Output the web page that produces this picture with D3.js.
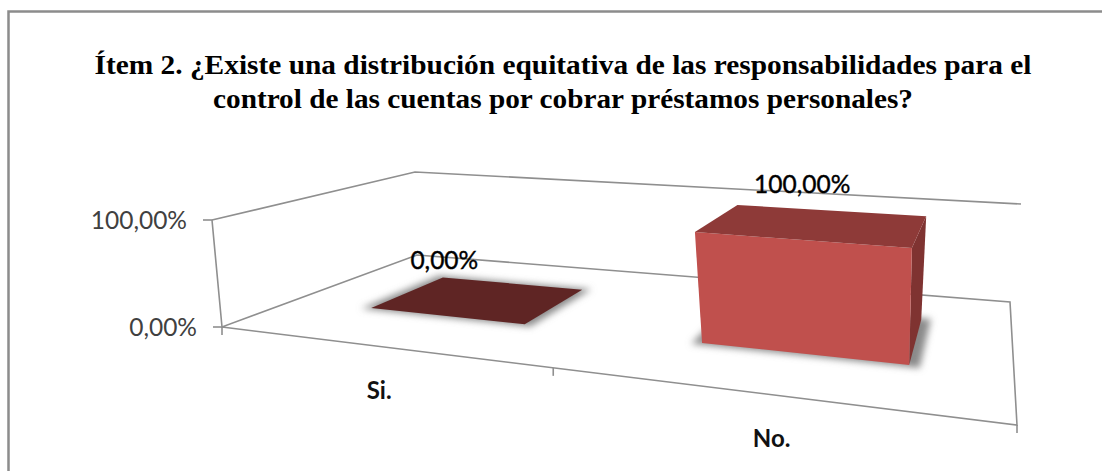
<!DOCTYPE html>
<html>
<head>
<meta charset="utf-8">
<script src="https://cdn.jsdelivr.net/npm/d3@7"></script>
<style>
  html, body { margin: 0; background: #fff; }
  svg { display: block; }
</style>
</head>
<body>
<div id="chart"></div>
<script>
const titleLines = [
  'Ítem 2. ¿Existe una distribución equitativa de las responsabilidades para el',
  'control de las cuentas por cobrar préstamos personales?'
];
const categories = ['Si.', 'No.'];
const values = [0, 100];
const valueLabels = ['0,00%', '100,00%'];
const yTicks = [0, 100];
const yTickLabels = ['0,00%', '100,00%'];

const width = 1102, height = 471;

// corners of the 3D box as seen on the page: floor and top of the walls
const floorCorners = [[222, 327], [1017, 425], [1010, 302], [417, 255]];
const topCorners = [[212, 220], [1027, 292], [1021, 204], [415, 172]];

// homography from the unit square to a quad
function quadMap(q) {
  const [[x0, y0], [x1, y1], [x2, y2], [x3, y3]] = q;
  const dx1 = x1 - x2, dx2 = x3 - x2, sx = x0 - x1 + x2 - x3;
  const dy1 = y1 - y2, dy2 = y3 - y2, sy = y0 - y1 + y2 - y3;
  const det = dx1 * dy2 - dx2 * dy1;
  const g = (sx * dy2 - dx2 * sy) / det;
  const h = (dx1 * sy - sx * dy1) / det;
  const a = x1 - x0 + g * x1, b = x3 - x0 + h * x3;
  const d = y1 - y0 + g * y1, e = y3 - y0 + h * y3;
  return (u, v) => {
    const w = g * u + h * v + 1;
    return [(a * u + b * v + x0) / w, (d * u + e * v + y0) / w];
  };
}

const floorMap = quadMap(floorCorners);
const topMap = quadMap(topCorners);

const uScale = d3.scaleBand().domain(categories).range([0, 1]).paddingInner(0.5).paddingOuter(0.25).align(0.55);
const depth = d3.scaleLinear().domain([0, 1]).range([0.31, 0.72]);
const yScale = d3.scaleLinear().domain([0, 100]).range([0, 1]);

// (u along categories, v into the page, value)
function project(u, v, val) {
  const f = floorMap(u, v), t = topMap(u, v), k = yScale(val);
  return [f[0] + (t[0] - f[0]) * k, f[1] + (t[1] - f[1]) * k];
}

const line = d3.line();
const closed = (pts) => line(pts) + 'Z';

const svg = d3.select('#chart').append('svg')
  .attr('width', width)
  .attr('height', height)
  .attr('viewBox', `0 0 ${width} ${height}`);

const defs = svg.append('defs');
defs.append('filter').attr('id', 'soft').attr('x', '-20%').attr('y', '-20%').attr('width', '140%').attr('height', '140%')
  .append('feGaussianBlur').attr('stdDeviation', 3.5);

// chart frame, only top and left are inside the crop
svg.append('path')
  .attr('d', line([[8.5, height], [8.5, 11.5], [width, 11.5]]))
  .attr('fill', 'none')
  .attr('stroke', '#8c8c8c')
  .attr('stroke-width', 2.5);

// title, stretched sideways like the original
svg.append('g').selectAll('text')
  .data(titleLines)
  .enter()
  .append('text')
  .attr('x', 563)
  .attr('y', (d, i) => 74 + i * 34)
  .attr('text-anchor', 'middle')
  .attr('font-family', "'Liberation Serif', serif")
  .attr('font-weight', 'bold')
  .attr('font-size', '26.5px')
  .attr('textLength', (d, i) => (i === 0 ? 937 : 700))
  .attr('lengthAdjust', 'spacingAndGlyphs')
  .attr('fill', '#000')
  .text((d) => d);

// walls and floor
const gridColor = '#8f8f8f';
const wall = svg.append('g').attr('fill', 'none').attr('stroke', gridColor).attr('stroke-width', 1.6);
wall.append('path').attr('d', line([project(0, 0, 100), project(0, 1, 100), project(1, 1, 100)]));
wall.append('path').attr('d', line([project(0, 0, 100), project(0, 0, 0), project(0, 1, 0), project(1, 1, 0), project(1, 0, 0), project(0, 0, 0)]));

// axis ticks
yTicks.forEach((t, i) => {
  const p = project(0, 0, t);
  wall.append('path').attr('d', line([[p[0] - 9, p[1]], p]));
  svg.append('text')
    .attr('x', p[0] - 25)
    .attr('y', p[1] + 9)
    .attr('text-anchor', 'end')
    .attr('font-family', 'Lato, sans-serif')
    .attr('font-size', '24.5px')
    .attr('fill', '#404040')
    .text(yTickLabels[i]);
});
[0, 0.5, 1].forEach((u) => {
  const p = project(u, 0, 0);
  wall.append('path').attr('d', line([p, [p[0], p[1] + 8]]));
});

// bars
const barColors = [
  { top: '#5f2524', front: '#5f2524', side: '#5f2524' },
  { top: '#8e3a38', front: '#c0504d', side: '#7f3331' }
];

categories.forEach((c, i) => {
  const u0 = uScale(c), u1 = u0 + uScale.bandwidth();
  const uMid = (u0 + u1) / 2;
  const v0 = depth(0), v1 = depth(1), val = values[i];
  const col = barColors[i];

  // shadow on the floor, a bit larger than the footprint
  svg.append('path')
    .attr('d', closed([
      project(u0 - 0.012, v0 - 0.015, 0),
      project(u1 + 0.012, v0 - 0.015, 0),
      project(u1 + 0.012, v1 + 0.015, 0),
      project(u0 - 0.012, v1 + 0.015, 0)
    ]))
    .attr('fill', '#8a8a8a')
    .attr('filter', 'url(#soft)');

  if (val > 0) {
    svg.append('path')
      .attr('d', closed([project(u1, v0, 0), project(u1, v1, 0), project(u1, v1, val), project(u1, v0, val)]))
      .attr('fill', col.side);
    svg.append('path')
      .attr('d', closed([project(u0, v0, 0), project(u1, v0, 0), project(u1, v0, val), project(u0, v0, val)]))
      .attr('fill', col.front);
  }
  svg.append('path')
    .attr('d', closed([project(u0, v0, val), project(u1, v0, val), project(u1, v1, val), project(u0, v1, val)]))
    .attr('fill', col.top);

  // value label sits above the front edge of the bar top
  const front = project(uMid, v0, val);
  svg.append('text')
    .attr('x', front[0] - 3.6 + 10 * uMid)
    .attr('y', front[1] - 47)
    .attr('text-anchor', 'middle')
    .attr('font-family', 'Lato, sans-serif')
    .attr('font-size', '24.5px')
    .attr('fill', '#000')
    .attr('stroke', '#000')
    .attr('stroke-width', 0.4)
    .text(valueLabels[i]);

  // category label
  const base = project(uMid, 0, 0);
  svg.append('text')
    .attr('x', base[0] - 4)
    .attr('y', base[1] + 52)
    .attr('text-anchor', 'middle')
    .attr('font-family', 'Lato, sans-serif')
    .attr('font-weight', 'bold')
    .attr('font-size', '24px')
    .attr('fill', '#111')
    .text(c);
});
</script>
</body>
</html>
